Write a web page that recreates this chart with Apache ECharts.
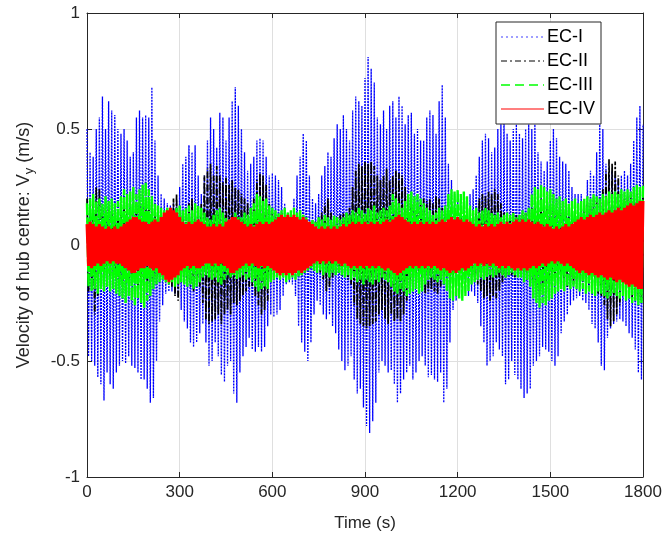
<!DOCTYPE html>
<html><head><meta charset="utf-8">
<script src="https://cdn.jsdelivr.net/npm/echarts@6/dist/echarts.min.js"></script>
<style>html,body{margin:0;padding:0;background:#fff}#c{width:669px;height:545px}</style>
</head><body><div id="c"></div>
<script>
// Sample times: upper-envelope samples at 0,10,...,1800 s; lower-envelope samples at 5,15,...,1795 s
const sampleStep = 10;
const xTicks = [0, 300, 600, 900, 1200, 1500, 1800];
const yTicks = [-1, -0.5, 0, 0.5, 1];
const seriesNames = ['EC-I', 'EC-II', 'EC-III', 'EC-IV'];

// EC-I (blue, dotted)
const ecI_up = [0.50,0.40,0.38,0.50,0.55,0.64,0.50,0.62,0.58,0.56,
0.50,0.48,0.50,0.45,0.38,0.40,0.55,0.58,0.55,0.56,
0.55,0.68,0.45,0.30,0.22,0.20,0.18,0.17,0.18,0.20,
0.25,0.35,0.38,0.43,0.40,0.43,0.30,0.22,0.30,0.45,
0.55,0.50,0.42,0.57,0.55,0.45,0.55,0.62,0.68,0.60,
0.50,0.40,0.32,0.35,0.38,0.45,0.46,0.45,0.38,0.30,
0.31,0.30,0.28,0.25,0.18,0.14,0.14,0.20,0.30,0.38,
0.48,0.45,0.30,0.20,0.18,0.22,0.30,0.34,0.40,0.38,
0.46,0.52,0.50,0.56,0.50,0.45,0.58,0.64,0.62,0.60,
0.72,0.81,0.76,0.70,0.55,0.52,0.58,0.50,0.60,0.62,
0.55,0.64,0.60,0.52,0.56,0.57,0.48,0.50,0.45,0.45,
0.55,0.58,0.56,0.48,0.62,0.69,0.55,0.35,0.28,0.22,
0.22,0.20,0.22,0.20,0.22,0.24,0.30,0.38,0.45,0.48,
0.46,0.40,0.42,0.50,0.52,0.53,0.48,0.45,0.50,0.52,
0.48,0.46,0.50,0.52,0.50,0.52,0.40,0.36,0.32,0.36,
0.45,0.50,0.46,0.38,0.36,0.35,0.32,0.25,0.22,0.22,
0.22,0.20,0.28,0.32,0.30,0.40,0.52,0.50,0.35,0.30,
0.32,0.30,0.28,0.30,0.32,0.30,0.35,0.45,0.55,0.60,
0.52];
const ecI_lo = [-0.48,-0.50,-0.52,-0.57,-0.60,-0.67,-0.55,-0.60,-0.62,-0.55,
-0.52,-0.50,-0.51,-0.48,-0.52,-0.53,-0.55,-0.58,-0.58,-0.62,
-0.68,-0.66,-0.50,-0.33,-0.26,-0.21,-0.20,-0.20,-0.21,-0.22,
-0.28,-0.33,-0.36,-0.42,-0.44,-0.42,-0.38,-0.34,-0.42,-0.52,
-0.50,-0.42,-0.48,-0.56,-0.59,-0.52,-0.50,-0.64,-0.68,-0.55,
-0.48,-0.44,-0.40,-0.45,-0.46,-0.44,-0.46,-0.44,-0.35,-0.30,
-0.31,-0.30,-0.28,-0.22,-0.17,-0.16,-0.17,-0.22,-0.35,-0.42,
-0.46,-0.50,-0.42,-0.30,-0.24,-0.26,-0.30,-0.32,-0.30,-0.35,
-0.38,-0.45,-0.50,-0.54,-0.52,-0.48,-0.58,-0.64,-0.62,-0.70,
-0.78,-0.81,-0.76,-0.68,-0.55,-0.50,-0.52,-0.55,-0.54,-0.60,
-0.68,-0.64,-0.58,-0.55,-0.52,-0.58,-0.55,-0.50,-0.48,-0.52,
-0.57,-0.56,-0.58,-0.59,-0.55,-0.68,-0.62,-0.42,-0.28,-0.24,
-0.20,-0.21,-0.20,-0.22,-0.20,-0.22,-0.25,-0.35,-0.42,-0.52,
-0.50,-0.48,-0.42,-0.45,-0.48,-0.60,-0.58,-0.50,-0.56,-0.58,
-0.62,-0.66,-0.64,-0.62,-0.52,-0.50,-0.48,-0.44,-0.45,-0.46,
-0.50,-0.52,-0.48,-0.38,-0.33,-0.30,-0.26,-0.24,-0.23,-0.22,
-0.24,-0.25,-0.28,-0.34,-0.36,-0.42,-0.52,-0.54,-0.40,-0.36,
-0.34,-0.33,-0.32,-0.33,-0.35,-0.38,-0.40,-0.45,-0.55,-0.58];

// EC-II (black, dash-dot)
const ecII_up = [0.20,0.18,0.22,0.25,0.24,0.16,0.14,0.16,0.15,0.14,
0.14,0.15,0.16,0.15,0.16,0.15,0.18,0.17,0.16,0.18,
0.17,0.15,0.14,0.13,0.12,0.14,0.15,0.16,0.20,0.22,
0.15,0.14,0.13,0.18,0.20,0.14,0.15,0.18,0.30,0.33,
0.35,0.30,0.34,0.30,0.27,0.29,0.26,0.28,0.25,0.24,
0.22,0.20,0.18,0.16,0.20,0.28,0.31,0.30,0.26,0.18,
0.14,0.13,0.12,0.14,0.12,0.11,0.12,0.13,0.12,0.13,
0.12,0.11,0.10,0.10,0.10,0.12,0.14,0.18,0.20,0.14,
0.12,0.12,0.13,0.14,0.14,0.16,0.25,0.32,0.35,0.34,
0.36,0.35,0.36,0.34,0.30,0.28,0.30,0.33,0.28,0.30,
0.32,0.31,0.30,0.25,0.20,0.18,0.15,0.14,0.18,0.20,
0.19,0.20,0.18,0.21,0.20,0.16,0.14,0.13,0.12,0.13,
0.12,0.13,0.12,0.11,0.12,0.14,0.16,0.20,0.22,0.21,
0.23,0.22,0.24,0.22,0.18,0.14,0.13,0.12,0.14,0.13,
0.12,0.13,0.14,0.15,0.16,0.18,0.17,0.20,0.18,0.17,
0.16,0.15,0.14,0.15,0.16,0.18,0.17,0.15,0.16,0.15,
0.16,0.17,0.18,0.17,0.20,0.19,0.20,0.24,0.32,0.37,
0.35,0.36,0.30,0.22,0.20,0.21,0.22,0.23,0.24,0.24,
0.24];
const ecII_lo = [-0.20,-0.18,-0.30,-0.22,-0.16,-0.15,-0.14,-0.15,-0.14,-0.15,
-0.15,-0.16,-0.15,-0.16,-0.17,-0.16,-0.18,-0.17,-0.18,-0.17,
-0.16,-0.15,-0.14,-0.13,-0.14,-0.15,-0.16,-0.18,-0.22,-0.24,
-0.16,-0.14,-0.15,-0.18,-0.20,-0.15,-0.18,-0.25,-0.32,-0.34,
-0.33,-0.32,-0.30,-0.34,-0.30,-0.28,-0.30,-0.25,-0.26,-0.24,
-0.22,-0.20,-0.18,-0.18,-0.22,-0.26,-0.30,-0.28,-0.24,-0.16,
-0.14,-0.12,-0.12,-0.13,-0.12,-0.11,-0.12,-0.12,-0.13,-0.12,
-0.12,-0.11,-0.10,-0.11,-0.10,-0.12,-0.15,-0.20,-0.18,-0.14,
-0.12,-0.12,-0.13,-0.14,-0.15,-0.17,-0.26,-0.32,-0.34,-0.35,
-0.36,-0.35,-0.34,-0.33,-0.30,-0.28,-0.32,-0.34,-0.30,-0.33,
-0.32,-0.33,-0.30,-0.24,-0.20,-0.18,-0.15,-0.16,-0.18,-0.21,
-0.20,-0.19,-0.20,-0.21,-0.18,-0.15,-0.14,-0.13,-0.13,-0.12,
-0.12,-0.12,-0.13,-0.12,-0.13,-0.15,-0.17,-0.20,-0.23,-0.22,
-0.24,-0.22,-0.23,-0.20,-0.16,-0.14,-0.13,-0.13,-0.14,-0.13,
-0.13,-0.14,-0.15,-0.16,-0.17,-0.18,-0.20,-0.18,-0.17,-0.16,
-0.15,-0.16,-0.15,-0.16,-0.17,-0.18,-0.16,-0.17,-0.15,-0.16,
-0.17,-0.18,-0.17,-0.19,-0.20,-0.21,-0.22,-0.26,-0.32,-0.35,
-0.33,-0.30,-0.26,-0.22,-0.21,-0.22,-0.23,-0.24,-0.24,-0.24];

// EC-III (green, dashed)
const ecIII_up = [0.18,0.20,0.22,0.19,0.20,0.18,0.21,0.19,0.20,0.18,
0.19,0.21,0.24,0.22,0.23,0.25,0.22,0.24,0.26,0.27,
0.24,0.21,0.18,0.17,0.16,0.15,0.16,0.15,0.14,0.16,
0.17,0.15,0.16,0.17,0.15,0.18,0.17,0.16,0.14,0.12,
0.11,0.13,0.15,0.16,0.14,0.12,0.11,0.12,0.14,0.12,
0.12,0.14,0.13,0.16,0.18,0.22,0.21,0.19,0.20,0.17,
0.16,0.15,0.14,0.15,0.16,0.14,0.15,0.16,0.14,0.15,
0.13,0.12,0.10,0.11,0.10,0.12,0.11,0.13,0.12,0.11,
0.13,0.12,0.11,0.12,0.14,0.13,0.15,0.14,0.16,0.15,
0.14,0.16,0.15,0.17,0.14,0.15,0.16,0.15,0.17,0.22,
0.20,0.18,0.16,0.19,0.22,0.23,0.21,0.22,0.20,0.18,
0.16,0.15,0.13,0.14,0.16,0.15,0.17,0.22,0.24,0.23,
0.24,0.22,0.23,0.21,0.17,0.15,0.16,0.14,0.15,0.16,
0.15,0.14,0.13,0.14,0.12,0.13,0.14,0.13,0.14,0.12,
0.13,0.15,0.14,0.16,0.22,0.25,0.24,0.26,0.25,0.23,
0.24,0.22,0.20,0.21,0.19,0.20,0.18,0.19,0.20,0.18,
0.19,0.20,0.21,0.20,0.22,0.21,0.20,0.22,0.21,0.23,
0.22,0.23,0.22,0.24,0.23,0.24,0.23,0.25,0.26,0.25,
0.26];
const ecIII_lo = [-0.18,-0.20,-0.19,-0.21,-0.19,-0.20,-0.18,-0.20,-0.19,-0.21,
-0.22,-0.23,-0.25,-0.22,-0.24,-0.26,-0.23,-0.25,-0.27,-0.24,
-0.22,-0.19,-0.17,-0.16,-0.15,-0.16,-0.17,-0.16,-0.18,-0.17,
-0.16,-0.17,-0.18,-0.17,-0.19,-0.18,-0.16,-0.14,-0.13,-0.14,
-0.15,-0.14,-0.16,-0.17,-0.15,-0.13,-0.14,-0.13,-0.15,-0.14,
-0.13,-0.15,-0.14,-0.16,-0.18,-0.20,-0.19,-0.18,-0.19,-0.16,
-0.15,-0.14,-0.15,-0.14,-0.16,-0.15,-0.14,-0.15,-0.14,-0.13,
-0.12,-0.11,-0.10,-0.11,-0.12,-0.11,-0.13,-0.12,-0.14,-0.12,
-0.13,-0.12,-0.13,-0.14,-0.13,-0.15,-0.14,-0.16,-0.15,-0.17,
-0.15,-0.16,-0.17,-0.15,-0.16,-0.14,-0.15,-0.16,-0.18,-0.20,
-0.21,-0.19,-0.20,-0.22,-0.21,-0.20,-0.19,-0.21,-0.20,-0.17,
-0.15,-0.14,-0.15,-0.16,-0.15,-0.17,-0.20,-0.23,-0.24,-0.22,
-0.23,-0.24,-0.22,-0.20,-0.17,-0.16,-0.15,-0.14,-0.15,-0.14,
-0.13,-0.14,-0.13,-0.12,-0.13,-0.14,-0.13,-0.12,-0.13,-0.14,
-0.14,-0.16,-0.15,-0.18,-0.23,-0.25,-0.27,-0.25,-0.26,-0.24,
-0.23,-0.21,-0.20,-0.19,-0.20,-0.18,-0.19,-0.18,-0.19,-0.20,
-0.19,-0.21,-0.20,-0.21,-0.22,-0.20,-0.21,-0.22,-0.23,-0.22,
-0.21,-0.22,-0.23,-0.22,-0.24,-0.23,-0.25,-0.24,-0.26,-0.25];

// EC-IV (red, solid)
const ecIV_up = [0.09,0.10,0.09,0.08,0.09,0.08,0.07,0.08,0.07,0.08,
0.07,0.08,0.09,0.10,0.11,0.12,0.12,0.11,0.10,0.10,
0.09,0.10,0.11,0.10,0.12,0.14,0.15,0.16,0.15,0.14,
0.12,0.10,0.09,0.10,0.09,0.10,0.11,0.10,0.09,0.08,
0.08,0.09,0.08,0.09,0.08,0.10,0.11,0.12,0.12,0.11,
0.10,0.09,0.08,0.09,0.08,0.09,0.10,0.09,0.10,0.09,
0.10,0.11,0.12,0.13,0.12,0.13,0.12,0.13,0.12,0.11,
0.12,0.11,0.10,0.09,0.08,0.07,0.08,0.07,0.08,0.07,
0.08,0.07,0.08,0.09,0.08,0.09,0.10,0.09,0.10,0.09,
0.10,0.09,0.10,0.09,0.10,0.09,0.10,0.11,0.10,0.11,
0.12,0.13,0.12,0.11,0.10,0.09,0.10,0.09,0.10,0.09,
0.10,0.09,0.10,0.09,0.10,0.11,0.10,0.11,0.12,0.11,
0.12,0.11,0.10,0.11,0.10,0.09,0.08,0.09,0.08,0.09,
0.08,0.09,0.08,0.09,0.10,0.09,0.10,0.09,0.10,0.11,
0.10,0.11,0.10,0.11,0.10,0.09,0.10,0.09,0.08,0.09,
0.08,0.07,0.08,0.07,0.08,0.09,0.08,0.09,0.10,0.11,
0.12,0.11,0.12,0.13,0.12,0.13,0.14,0.13,0.14,0.15,
0.14,0.15,0.16,0.15,0.16,0.17,0.18,0.17,0.18,0.19,
0.19];
const ecIV_lo = [-0.09,-0.10,-0.09,-0.08,-0.09,-0.08,-0.07,-0.08,-0.07,-0.08,
-0.08,-0.09,-0.10,-0.11,-0.12,-0.12,-0.11,-0.10,-0.10,-0.09,
-0.10,-0.11,-0.10,-0.12,-0.13,-0.15,-0.16,-0.15,-0.14,-0.13,
-0.11,-0.10,-0.09,-0.10,-0.09,-0.10,-0.10,-0.09,-0.08,-0.08,
-0.09,-0.08,-0.09,-0.08,-0.09,-0.10,-0.12,-0.12,-0.11,-0.10,
-0.09,-0.08,-0.09,-0.08,-0.09,-0.10,-0.09,-0.10,-0.09,-0.10,
-0.11,-0.12,-0.13,-0.12,-0.13,-0.12,-0.13,-0.12,-0.11,-0.12,
-0.11,-0.10,-0.09,-0.08,-0.07,-0.08,-0.07,-0.08,-0.07,-0.08,
-0.07,-0.08,-0.09,-0.08,-0.09,-0.10,-0.09,-0.10,-0.09,-0.10,
-0.09,-0.10,-0.09,-0.10,-0.09,-0.10,-0.11,-0.10,-0.11,-0.12,
-0.13,-0.12,-0.11,-0.10,-0.09,-0.10,-0.09,-0.10,-0.09,-0.10,
-0.09,-0.10,-0.09,-0.10,-0.11,-0.10,-0.11,-0.12,-0.11,-0.12,
-0.11,-0.10,-0.11,-0.10,-0.09,-0.08,-0.09,-0.08,-0.09,-0.08,
-0.09,-0.08,-0.09,-0.10,-0.09,-0.10,-0.09,-0.10,-0.11,-0.10,
-0.11,-0.10,-0.11,-0.10,-0.09,-0.10,-0.09,-0.08,-0.09,-0.08,
-0.07,-0.08,-0.07,-0.08,-0.09,-0.08,-0.09,-0.10,-0.11,-0.12,
-0.11,-0.12,-0.13,-0.12,-0.13,-0.14,-0.13,-0.14,-0.15,-0.14,
-0.15,-0.16,-0.15,-0.16,-0.17,-0.18,-0.17,-0.18,-0.19,-0.19];

// merge upper (t = k*step) and lower (t = k*step + step/2) samples in time order
function merge(up, lo) {
  const out = [];
  for (let k = 0; k < up.length; k++) {
    out.push([k * sampleStep, up[k]]);
    if (k < lo.length) out.push([k * sampleStep + sampleStep / 2, lo[k]]);
  }
  return out;
}

const FONT = '"Liberation Sans", Arial, Helvetica, sans-serif';
const AX = '#262626';
const chart = echarts.init(document.getElementById('c'), null, {renderer: 'canvas'});

const common = {type: 'line', symbol: 'none', showSymbol: false, sampling: null, animation: false, silent: true, z: 2};
const styles = [
  {color: '#0000ff', width: 1.3, type: [2, 1]},
  {color: '#000000', width: 1.7, type: [7, 2, 2, 2]},
  {color: '#00ff00', width: 2.4, type: [12, 2]},
  {color: '#ff0000', width: 3, type: 'solid'}
];
const legendStyles = [
  {color: '#7f7fff', width: 1.5, type: [2, 3]},
  {color: '#000000', width: 1, type: [6, 3, 2, 3]},
  {color: '#00ff00', width: 1.5, type: [9, 5]},
  {color: '#ff7f7f', width: 2, type: 'solid'}
];
const xLab = v => String(v);
chart.setOption({
  animation: false,
  backgroundColor: '#fff',
  textStyle: {fontFamily: FONT},
  grid: {left: 87, right: 26, top: 13, bottom: 68, containLabel: false},
  legend: {
    orient: 'vertical', left: 496, top: 22, width: 108,
    padding: [6, 6, 6, 4], itemGap: 6, itemWidth: 43, itemHeight: 18,
    borderColor: AX, borderWidth: 1, backgroundColor: '#fff',
    textStyle: {fontFamily: FONT, fontSize: 18, color: '#000', padding: [0, 0, 0, -2]},
    data: seriesNames.map((n, i) => ({name: n, itemStyle: {opacity: 0}, lineStyle: legendStyles[i]})),
    z: 10
  },
  xAxis: [{
    type: 'value', min: xTicks[0], max: xTicks[xTicks.length - 1], interval: 300,
    position: 'bottom',
    name: 'Time (s)', nameLocation: 'middle', nameGap: 38,
    nameTextStyle: {fontFamily: FONT, fontSize: 17, color: AX},
    axisLine: {show: true, onZero: false, lineStyle: {color: AX, width: 1}},
    axisTick: {show: true, inside: true, length: 5, lineStyle: {color: AX}},
    axisLabel: {fontFamily: FONT, fontSize: 17, color: AX, margin: 7, formatter: xLab},
    splitLine: {show: true, lineStyle: {color: '#dfdfdf', width: 1}}
  }, {
    type: 'value', min: xTicks[0], max: xTicks[xTicks.length - 1], interval: 300,
    position: 'top',
    axisLine: {show: true, onZero: false, lineStyle: {color: AX, width: 1}},
    axisTick: {show: true, inside: true, length: 5, lineStyle: {color: AX}},
    axisLabel: {show: false}, splitLine: {show: false}
  }],
  yAxis: [{
    type: 'value', min: yTicks[0], max: yTicks[yTicks.length - 1], interval: 0.5,
    position: 'left',
    name: '{a|Velocity of hub centre: V}{b|y}{a| (m/s)}', nameLocation: 'middle', nameGap: 51,
    nameRotate: 90,
    nameTextStyle: {
      color: AX,
      rich: {
        a: {fontFamily: FONT, fontSize: 18, color: AX},
        b: {fontFamily: FONT, fontSize: 13, color: AX, padding: [10, 0, 0, 0]}
      }
    },
    axisLine: {show: true, onZero: false, lineStyle: {color: AX, width: 1}},
    axisTick: {show: true, inside: true, length: 5, lineStyle: {color: AX}},
    axisLabel: {fontFamily: FONT, fontSize: 17, color: AX, margin: 7, formatter: xLab},
    splitLine: {show: true, lineStyle: {color: '#dfdfdf', width: 1}}
  }, {
    type: 'value', min: yTicks[0], max: yTicks[yTicks.length - 1], interval: 0.5,
    position: 'right',
    axisLine: {show: true, onZero: false, lineStyle: {color: AX, width: 1}},
    axisTick: {show: true, inside: true, length: 5, lineStyle: {color: AX}},
    axisLabel: {show: false}, splitLine: {show: false}
  }],
  series: [
    Object.assign({}, common, {name: seriesNames[0], data: merge(ecI_up, ecI_lo), color: styles[0].color, lineStyle: styles[0]}),
    Object.assign({}, common, {name: seriesNames[1], data: merge(ecII_up, ecII_lo), color: styles[1].color, lineStyle: styles[1]}),
    Object.assign({}, common, {name: seriesNames[2], data: merge(ecIII_up, ecIII_lo), color: styles[2].color, lineStyle: styles[2]}),
    Object.assign({}, common, {name: seriesNames[3], data: merge(ecIV_up, ecIV_lo), color: styles[3].color, lineStyle: styles[3]})
  ]
});
</script></body></html>
